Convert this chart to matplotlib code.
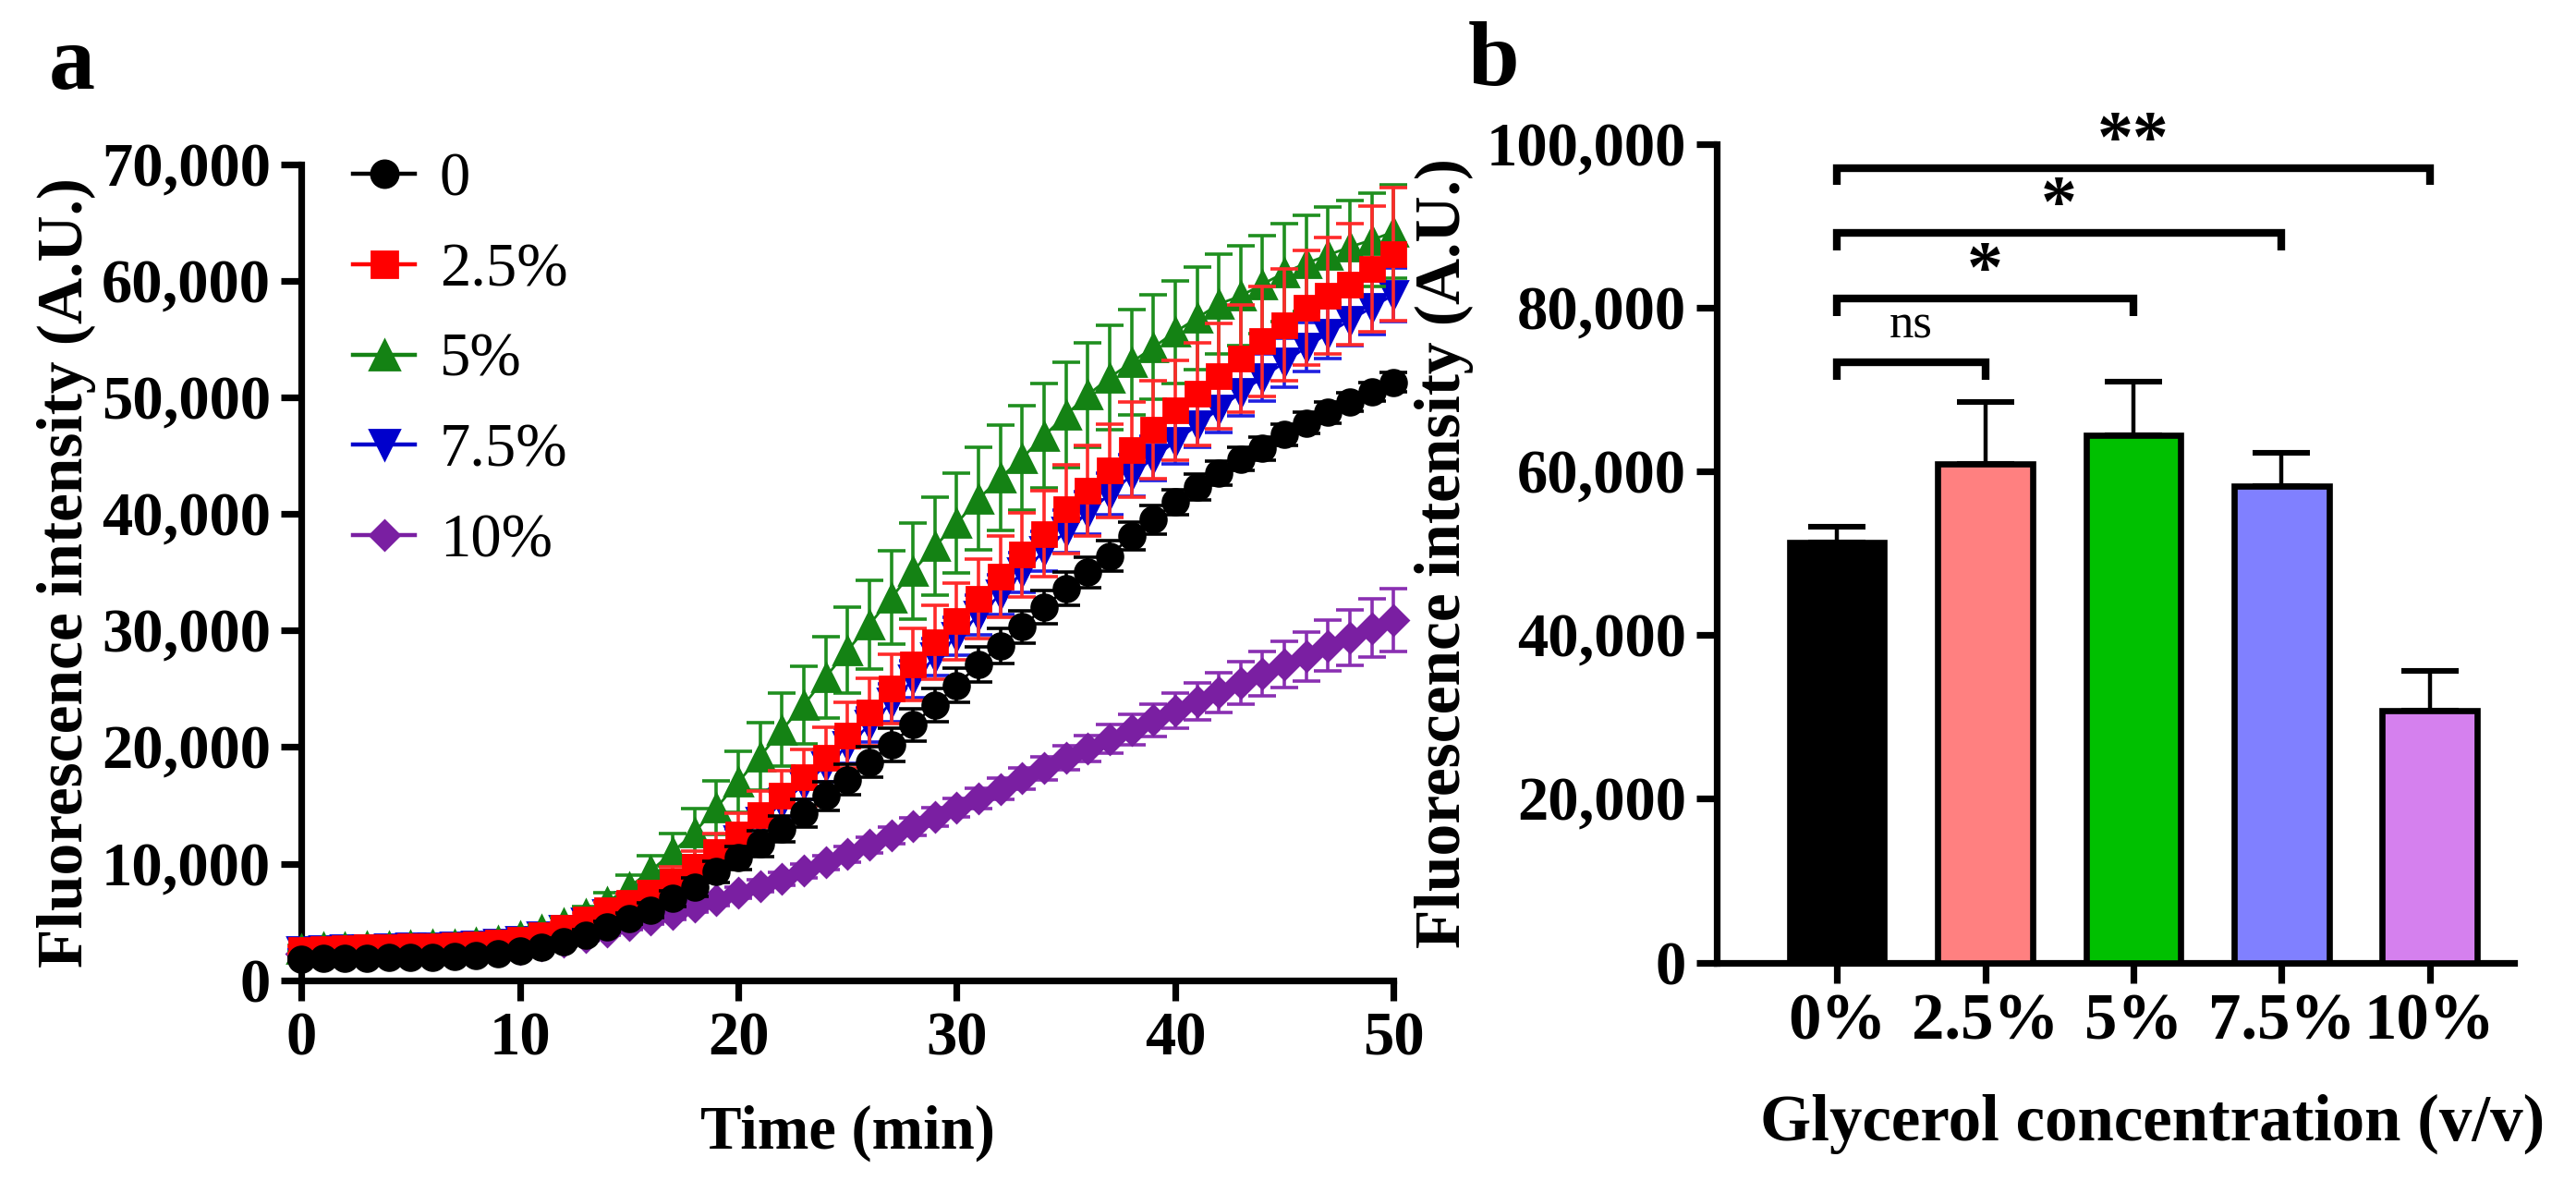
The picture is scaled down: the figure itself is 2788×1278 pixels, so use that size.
import matplotlib
matplotlib.use("Agg")
import matplotlib.pyplot as plt
from matplotlib.ticker import FuncFormatter
from matplotlib.lines import Line2D

plt.rcParams['font.family'] = ['Liberation Serif', 'DejaVu Serif']

# ---------------- data: panel a ----------------
time_min = [0, 1, 2, 3, 4, 5, 6, 7, 8, 9, 10, 11, 12, 13, 14, 15, 16, 17, 18, 19, 20,
            21, 22, 23, 24, 25, 26, 27, 28, 29, 30, 31, 32, 33, 34, 35, 36, 37, 38, 39, 40,
            41, 42, 43, 44, 45, 46, 47, 48, 49, 50]

g0 = [1800, 1850, 1900, 1900, 1950, 1950, 2000, 2050, 2150, 2300,
      2500, 2800, 3300, 3900, 4600, 5300, 6000, 7000, 8000, 9300,
      10500, 11700, 13000, 14300, 15800, 17200, 18700, 20200, 21900, 23600,
      25300, 27100, 28700, 30300, 32000, 33600, 35000, 36400, 38100, 39500,
      41000, 42300, 43500, 44700, 45600, 46800, 47800, 48700, 49600, 50500, 51300]
g0_err = [150, 150, 150, 150, 150, 150, 150, 150, 200, 200,
          250, 300, 350, 400, 450, 500, 600, 700, 800, 900,
          1000, 1100, 1100, 1200, 1200, 1300, 1300, 1400, 1400, 1400,
          1500, 1500, 1500, 1400, 1400, 1400, 1300, 1300, 1200, 1200,
          1100, 1100, 1000, 1000, 1000, 900, 900, 900, 800, 800, 800]

g25 = [2600, 2700, 2750, 2800, 2850, 2900, 2950, 3000, 3100, 3250,
       3500, 3900, 4500, 5200, 6000, 6600, 7500, 8500, 9700, 11000,
       12500, 14200, 15800, 17400, 19100, 21000, 23000, 25000, 27100, 29000,
       30800, 32700, 34600, 36500, 38300, 40400, 42000, 43700, 45500, 47200,
       48900, 50300, 51800, 53300, 54800, 56200, 57700, 58700, 59700, 61000, 62300]
g25_err = [300, 300, 300, 300, 300, 300, 300, 300, 300, 350,
           400, 450, 500, 600, 700, 800, 1000, 1200, 1400, 1600,
           1800, 2000, 2200, 2400, 2600, 2800, 2900, 3000, 3100, 3200,
           3300, 3400, 3500, 3600, 3700, 3800, 3900, 4000, 4100, 4200,
           4300, 4400, 4500, 4600, 4700, 4800, 4900, 5000, 5200, 5400, 5700]

g5 = [2700, 2800, 2850, 2900, 2950, 3000, 3050, 3100, 3200, 3400,
      3800, 4300, 4900, 5700, 6700, 8000, 9400, 11000, 12700, 14800,
      17000, 19200, 21500, 23600, 26000, 28300, 30500, 32800, 35100, 37200,
      39200, 41300, 43100, 44800, 46700, 48500, 50200, 51700, 53000, 54300,
      55600, 56800, 58000, 58700, 59700, 60700, 61500, 62200, 62900, 63500, 64200]
g5_err = [300, 300, 300, 300, 300, 300, 300, 300, 300, 350,
          400, 450, 500, 600, 800, 1000, 1300, 1600, 2000, 2300,
          2600, 2900, 3100, 3300, 3500, 3700, 3800, 4000, 4100, 4200,
          4300, 4400, 4500, 4500, 4500, 4500, 4500, 4500, 4500, 4500,
          4400, 4400, 4300, 4300, 4200, 4200, 4100, 4100, 4000, 4000, 4000]

g75 = [2500, 2600, 2650, 2700, 2750, 2800, 2850, 2900, 3000, 3150,
       3400, 3800, 4300, 5000, 5700, 6400, 7200, 8200, 9300, 10600,
       12000, 13600, 15200, 16800, 18400, 20100, 21900, 23800, 25800, 27700,
       29500, 31300, 33100, 35000, 36800, 38500, 40100, 41700, 43300, 44800,
       46200, 47600, 49000, 50400, 51700, 53000, 54300, 55500, 56600, 57700, 58800]
g75_err = [200, 200, 200, 200, 200, 200, 200, 200, 250, 250,
           300, 350, 400, 450, 500, 550, 600, 700, 800, 900,
           1000, 1100, 1200, 1300, 1400, 1500, 1500, 1600, 1600, 1600,
           1600, 1700, 1700, 1700, 1700, 1800, 1800, 1800, 1800, 1900,
           1900, 1900, 2000, 2000, 2000, 2100, 2100, 2200, 2200, 2300, 2300]

g10 = [2300, 2350, 2400, 2400, 2450, 2450, 2500, 2500, 2550, 2600,
       2700, 3000, 3300, 3700, 4200, 4700, 5200, 5700, 6300, 6900,
       7500, 8100, 8700, 9400, 10100, 10800, 11600, 12400, 13200, 14000,
       14800, 15600, 16400, 17300, 18200, 19100, 19900, 20700, 21500, 22300,
       23100, 23900, 24700, 25500, 26300, 27100, 27800, 28700, 29400, 30200, 30900]
g10_err = [200, 200, 200, 200, 200, 200, 200, 200, 200, 200,
           250, 300, 300, 350, 350, 400, 400, 450, 450, 500,
           500, 550, 550, 600, 600, 650, 700, 700, 750, 800,
           800, 850, 900, 950, 1000, 1050, 1100, 1200, 1300, 1400,
           1500, 1600, 1700, 1800, 1900, 2000, 2100, 2200, 2400, 2500, 2700]

series_labels = ['0', '2.5%', '5%', '7.5%', '10%']

# ---------------- data: panel b ----------------
bar_labels = ['0%', '2.5%', '5%', '7.5%', '10%']
bar_means = [51300, 60900, 64400, 58200, 30800]
bar_sd = [1900, 7600, 6600, 4100, 4800]
# significance comparisons: (i, j, line height, text)
sig_pairs = [(0, 1, 73300, 'ns'), (0, 2, 81100, '*'), (0, 3, 89100, '*'), (0, 4, 97100, '**')]

# ---------------- figure ----------------
fig = plt.figure(figsize=(13.94, 6.39), dpi=200)
axA = fig.add_axes([0.117, 0.170, 0.424, 0.691])
axB = fig.add_axes([0.6665, 0.185, 0.3095, 0.693])

LW = 2.6
TICK_FS = 24
LABEL_FS = 25
fmt = FuncFormatter(lambda v, p: f"{int(v):,}")

# ---- panel a ----
styles = [
    dict(color='black', ecolor='black', marker='o', ms=10),
    dict(color='#FF0000', ecolor='#FF2a2a', marker='s', ms=9.5),
    dict(color='#148214', ecolor='#1f8f1f', marker='^', ms=11),
    dict(color='#0000CC', ecolor='#2020E0', marker='v', ms=11),
    dict(color='#7A1FA2', ecolor='#8a2fb2', marker='D', ms=8),
]
data = [(g0, g0_err), (g25, g25_err), (g5, g5_err), (g75, g75_err), (g10, g10_err)]
zorders = [6, 5, 4, 3, 2]
handles = []
for (y, e), st, lab, z in zip(data, styles, series_labels, zorders):
    axA.errorbar(time_min, y, yerr=e, color=st['color'], ecolor=st['ecolor'],
                 marker=st['marker'], ms=st['ms'], mec=st['color'], mfc=st['color'],
                 lw=1.0, elinewidth=1.3, capsize=5.5, capthick=1.3,
                 zorder=z, clip_on=False)
    handles.append(Line2D([], [], color=st['color'], marker=st['marker'],
                          ms=st['ms'] * 1.05, lw=1.6, label=lab))

axA.set_xlim(0, 50)
axA.set_ylim(0, 70000)
axA.set_xticks([0, 10, 20, 30, 40, 50])
axA.set_yticks(range(0, 70001, 10000))
axA.yaxis.set_major_formatter(fmt)
axA.set_xlabel('Time (min)', fontsize=24, fontweight='bold', va='top')
axA.set_ylabel('Fluorescence intensity (A.U.)', fontsize=LABEL_FS, fontweight='bold')
axA.xaxis.set_label_coords(0.5, -0.153)
axA.yaxis.set_label_coords(-0.188, 0.5)

leg = axA.legend(handles=handles, loc='upper left', bbox_to_anchor=(0.025, 1.045),
                 frameon=False, fontsize=24, handlelength=1.0, handletextpad=0.4,
                 labelspacing=0.55, borderaxespad=0)

# ---- panel b ----
bar_colors = ['#000000', '#FF8080', '#00C000', '#8080FF', '#D580EE']
xpos = list(range(len(bar_labels)))
axB.bar(xpos, bar_means, width=0.64, color=bar_colors, edgecolor='black', linewidth=2.4, zorder=3)
axB.errorbar(xpos, bar_means, yerr=[[0] * len(bar_sd), bar_sd], fmt='none', ecolor='black',
             elinewidth=1.6, capsize=11, capthick=2.2, zorder=2)
axB.set_xlim(-0.81, 4.57)
axB.set_ylim(0, 100000)
axB.set_yticks(range(0, 100001, 20000))
axB.yaxis.set_major_formatter(fmt)
axB.set_xticks(xpos)
axB.set_xticklabels(bar_labels)
axB.set_xlabel('Glycerol concentration (v/v)', fontsize=25.5, fontweight='bold', va='top')
axB.set_ylabel('Fluorescence intensity (A.U.)', fontsize=LABEL_FS, fontweight='bold')
axB.xaxis.set_label_coords(0.546, -0.160)
axB.yaxis.set_label_coords(-0.305, 0.5)

drop = 2100
for i, j, h, txt in sig_pairs:
    axB.plot([xpos[i], xpos[i], xpos[j], xpos[j]], [h - drop, h, h, h - drop],
             color='black', lw=3.0, solid_capstyle='butt', solid_joinstyle='miter',
             clip_on=False, zorder=4)
    if txt == 'ns':
        axB.text((xpos[i] + xpos[j]) / 2, h + 1800, txt, ha='center', va='bottom',
                 fontsize=19, fontweight='normal')
    else:
        axB.text((xpos[i] + xpos[j]) / 2, h - 900, txt, ha='center', va='bottom',
                 fontsize=28, fontweight='bold')

for ax in (axA, axB):
    for s in ('top', 'right'):
        ax.spines[s].set_visible(False)
    for s in ('left', 'bottom'):
        ax.spines[s].set_linewidth(LW)
    ax.tick_params(axis='both', which='major', direction='out', length=8, width=LW,
                   labelsize=TICK_FS, pad=4)
axB.tick_params(axis='x', labelsize=25.5)
for ax in (axA, axB):
    for lab in ax.get_xticklabels() + ax.get_yticklabels():
        lab.set_fontweight('bold')

fig.text(0.019, 0.944, 'a', fontsize=36, fontweight='bold', va='center', ha='left')
fig.text(0.570, 0.947, 'b', fontsize=36, fontweight='bold', va='center', ha='left')

fig.savefig('out.png', dpi=200)
